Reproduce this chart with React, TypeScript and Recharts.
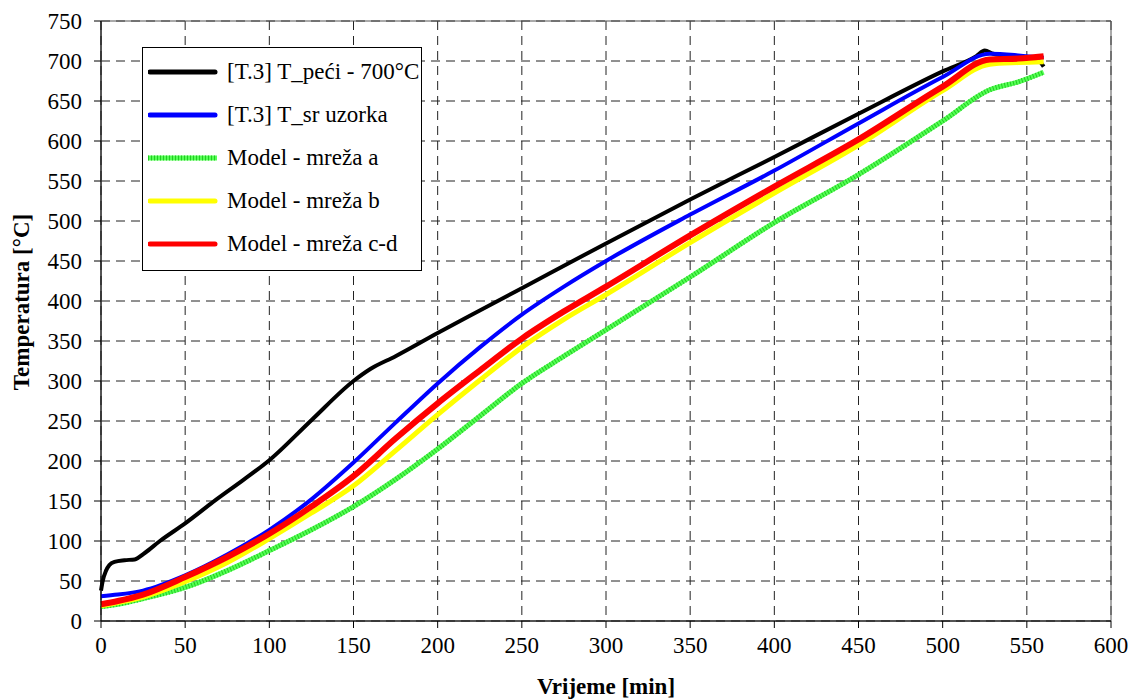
import React from 'react';
import { LineChart, Line, XAxis, YAxis, CartesianGrid, Legend, ReferenceArea } from 'recharts';

// Furnace temperature [T.3] T_peći - 700°C
const furnaceTime = [0, 1, 3, 5, 8, 14, 20, 26, 35, 50, 68, 85, 100, 125, 150, 160, 175, 200, 225, 250, 300, 350, 400, 450, 500, 520, 525, 530, 545, 556, 560];
const furnaceTemp = [38, 50, 63, 70, 74, 76, 77, 85, 100, 122, 151, 177, 201, 251, 300, 315, 331, 360, 388, 416, 472, 527, 580, 634, 687, 706, 713, 709, 705, 702, 693];

// Shared time base for the sample measurement and the models
const modelTime = [0, 10, 25, 50, 75, 100, 125, 150, 175, 200, 225, 250, 275, 300, 350, 400, 450, 500, 528, 545, 560];
const sampleTemp = [31, 33, 38, 57, 83, 114, 152, 198, 248, 297, 342, 383, 418, 450, 508, 563, 622, 680, 709, 707, 704];
const meshA = [18, 21, 28, 42, 63, 88, 114, 143, 177, 215, 256, 297, 331, 364, 430, 498, 558, 625, 664, 674, 686];
const meshB = [19, 23, 30, 49, 73, 103, 135, 169, 213, 258, 301, 342, 377, 408, 473, 535, 595, 663, 696, 698, 699];
const meshCD = [21, 25, 33, 55, 80, 109, 143, 181, 228, 272, 313, 353, 387, 418, 482, 543, 602, 668, 702, 703, 706];

const xTicks = [0, 50, 100, 150, 200, 250, 300, 350, 400, 450, 500, 550, 600];
const yTicks = [0, 50, 100, 150, 200, 250, 300, 350, 400, 450, 500, 550, 600, 650, 700, 750];

const seriesNames = ['[T.3] T_peći - 700°C', '[T.3] T_sr uzorka', 'Model - mreža a', 'Model - mreža b', 'Model - mreža c-d'];

const furnaceData = furnaceTime.map((t, i) => ({ t, v: furnaceTemp[i] }));
const modelData = modelTime.map((t, i) => ({ t, sample: sampleTemp[i], a: meshA[i], b: meshB[i], cd: meshCD[i] }));

const FONT = '"Liberation Serif", "Times New Roman", serif';

const GREEN_BASE = '#55ff55';
const GREEN_DARK = '#22cc22';

const LegendBox = (props: any) => {
  const payload = (props.payload || [])
    .filter((p: any) => seriesNames.includes(p.value))
    .sort((p: any, q: any) => seriesNames.indexOf(p.value) - seriesNames.indexOf(q.value));
  return (
    <div
      style={{
        border: '1px solid #000',
        background: '#fff',
        width: 278,
        height: 220,
        paddingTop: 2,
        boxSizing: 'content-box',
        fontFamily: FONT,
        fontSize: 23,
        color: '#000',
      }}
    >
      {payload.map((p: any) => (
        <div key={p.value} style={{ height: 43, display: 'flex', alignItems: 'center' }}>
          <svg width={79} height={10} style={{ marginLeft: 5, flex: 'none' }}>
            {p.value === seriesNames[2] ? (
              <g>
                <line x1={0} y1={5} x2={69} y2={5} stroke={GREEN_BASE} strokeWidth={5} />
                <line x1={0} y1={5} x2={69} y2={5} stroke={GREEN_DARK} strokeWidth={5} strokeDasharray="1 2" />
              </g>
            ) : (
              <line x1={2} y1={5} x2={67} y2={5} stroke={p.color} strokeWidth={5} strokeLinecap="round" />
            )}
          </svg>
          <span style={{ whiteSpace: 'pre', lineHeight: '23px' }}>{p.value}</span>
        </div>
      ))}
    </div>
  );
};

const YTitle = (props: any) => {
  const vb = props.viewBox || { x: 0, y: 0, width: 0, height: 0 };
  const cx = vb.x + 21;
  const cy = vb.y + vb.height / 2 - 19;
  return (
    <text
      x={cx}
      y={cy}
      transform={`rotate(-90 ${cx} ${cy})`}
      textAnchor="middle"
      dominantBaseline="central"
      fontFamily={FONT}
      fontSize={23}
      fontWeight="bold"
      fill="#000"
    >
      Temperatura [°C]
    </text>
  );
};

export default function App() {
  return (
    <div style={{ position: 'absolute', left: 0, top: 0, width: 1131, height: 699, background: '#fff' }}>
      <LineChart width={1131} height={699} margin={{ top: 21, right: 20, bottom: 0, left: 0 }}>
        <CartesianGrid stroke="#222" strokeDasharray="9 6" strokeWidth={1} />
        <ReferenceArea x1={0} x2={600} y1={0} y2={750} fill="none" stroke="#555" strokeWidth={1} ifOverflow="visible" />
        <XAxis
          dataKey="t"
          type="number"
          domain={[0, 600]}
          ticks={xTicks}
          allowDuplicatedCategory={false}
          height={78}
          tickSize={7}
          tickMargin={9}
          stroke="#000"
          tick={{ fontFamily: FONT, fontSize: 23, fill: '#000' }}
          label={{
            value: 'Vrijeme [min]',
            position: 'insideBottom',
            offset: 5,
            style: { fontFamily: FONT, fontSize: 23, fontWeight: 'bold', fill: '#000' },
          }}
        />
        <YAxis
          type="number"
          domain={[0, 750]}
          ticks={yTicks}
          width={101}
          tickSize={7}
          tickMargin={12}
          stroke="#000"
          tick={{ fontFamily: FONT, fontSize: 23, fill: '#000' }}
          label={{ content: YTitle }}
        />
        <Legend
          layout="vertical"
          align="center"
          verticalAlign="middle"
          wrapperStyle={{ left: 142, top: 47, width: 281 }}
          content={LegendBox}
        />
        <Line
          data={furnaceData}
          dataKey="v"
          name={seriesNames[0]}
          stroke="#000000"
          strokeWidth={4}
          dot={false}
          type="monotone"
          isAnimationActive={false}
        />
        <Line
          data={modelData}
          dataKey="sample"
          name={seriesNames[1]}
          stroke="#0000ff"
          strokeWidth={4}
          dot={false}
          type="monotone"
          isAnimationActive={false}
        />
        <Line
          data={modelData}
          dataKey="a"
          name={seriesNames[2]}
          stroke={GREEN_BASE}
          strokeWidth={5}
          dot={false}
          type="monotone"
          isAnimationActive={false}
        />
        <Line
          data={modelData}
          dataKey="a"
          name="green texture"
          legendType="none"
          stroke={GREEN_DARK}
          strokeWidth={5}
          strokeDasharray="1 2"
          dot={false}
          type="monotone"
          isAnimationActive={false}
        />
        <Line
          data={modelData}
          dataKey="b"
          name={seriesNames[3]}
          stroke="#ffff00"
          strokeWidth={5}
          dot={false}
          type="monotone"
          isAnimationActive={false}
        />
        <Line
          data={modelData}
          dataKey="cd"
          name={seriesNames[4]}
          stroke="#ff0000"
          strokeWidth={6}
          dot={false}
          type="monotone"
          isAnimationActive={false}
        />
      </LineChart>
    </div>
  );
}
